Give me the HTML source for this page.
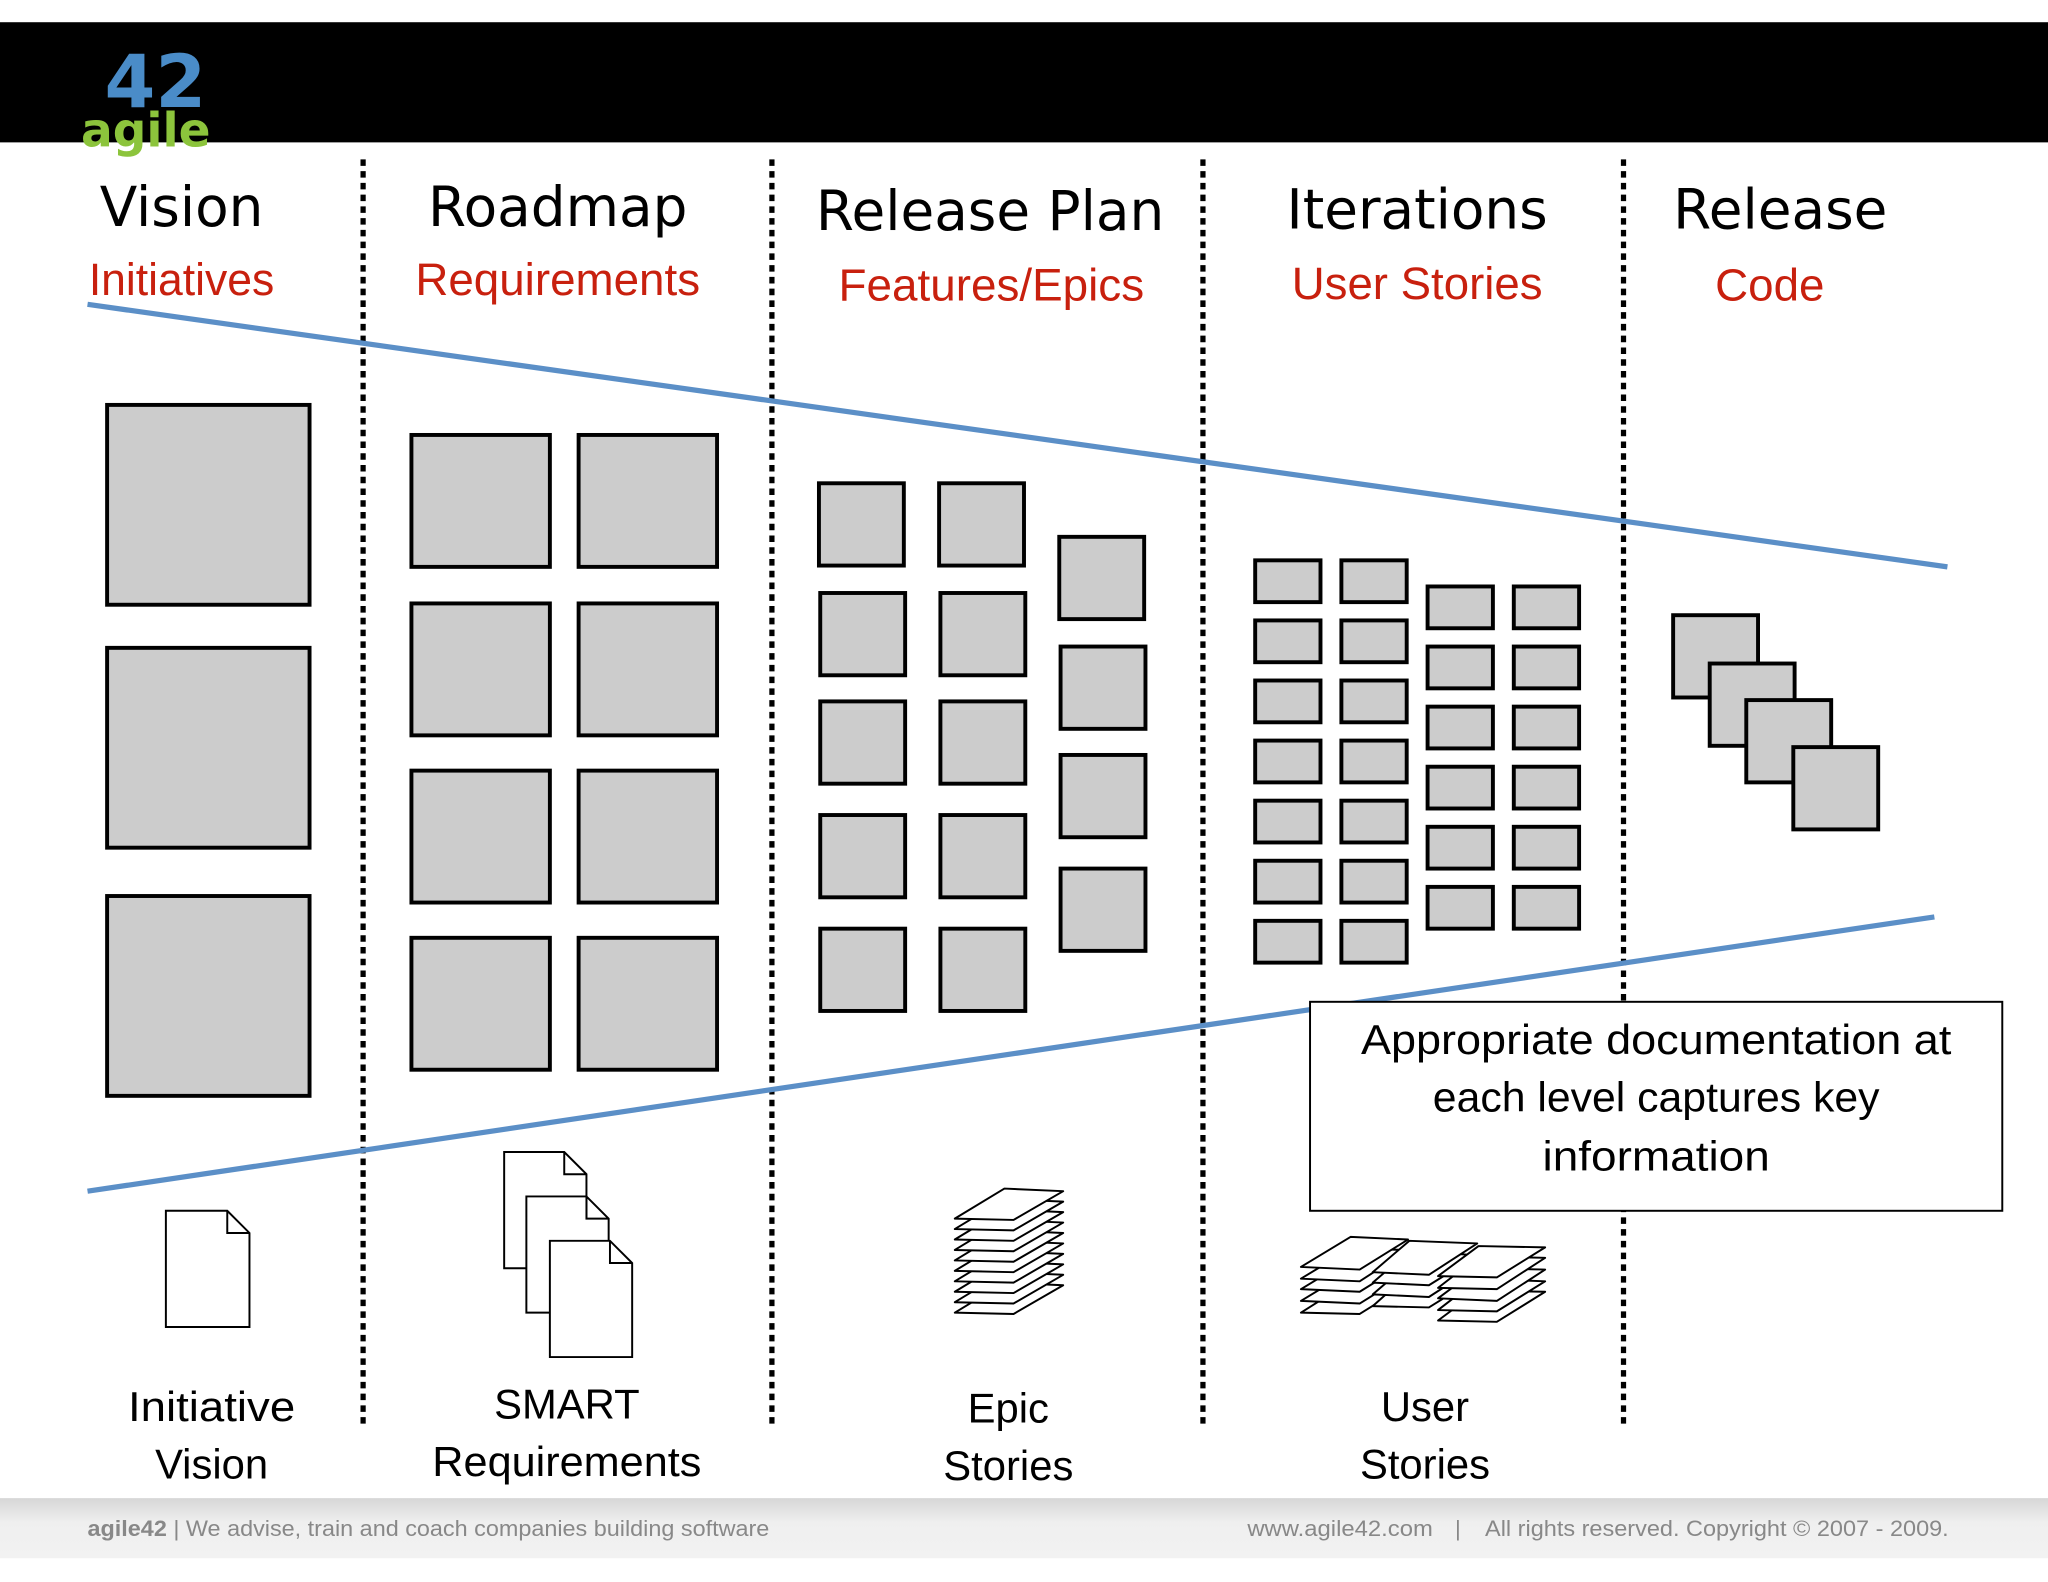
<!DOCTYPE html>
<html><head><meta charset="utf-8"><style>
html,body{margin:0;padding:0;background:#fff;}
svg{display:block;}
</style></head><body>
<svg width="2048" height="1582" viewBox="0 0 1568 1211.2" xmlns="http://www.w3.org/2000/svg" font-family="Liberation Sans, DejaVu Sans, sans-serif">
<rect x="0" y="0" width="1568" height="1212" fill="#fff"/>
<rect x="0" y="17" width="1568" height="92" fill="#000"/>
<!-- logo -->
<text x="80" y="82" font-size="56" font-weight="bold" fill="#4a8cc8" font-family="DejaVu Sans, sans-serif">42</text>
<text x="62" y="112" font-size="36" font-weight="bold" fill="#8cc43c" font-family="DejaVu Sans, sans-serif">agile</text>
<!-- footer -->
<defs><linearGradient id="fg" x1="0" y1="0" x2="0" y2="1"><stop offset="0" stop-color="#d6d6d6"/><stop offset="0.4" stop-color="#efefef"/><stop offset="1" stop-color="#f2f2f2"/></linearGradient></defs>
<rect x="0" y="1147" width="1568" height="46" fill="url(#fg)"/>
<text x="67" y="1176" font-size="17" fill="#888" textLength="522" lengthAdjust="spacingAndGlyphs"><tspan font-weight="bold">agile42</tspan> | We advise, train and coach companies building software</text>
<text x="955" y="1176" font-size="17" fill="#888" textLength="142" lengthAdjust="spacingAndGlyphs">www.agile42.com</text>
<text x="1114" y="1176" font-size="17" fill="#888">|</text>
<text x="1137" y="1176" font-size="17" fill="#888" textLength="355" lengthAdjust="spacingAndGlyphs">All rights reserved. Copyright © 2007 - 2009.</text>
<!-- dotted separators -->
<g stroke="#000" stroke-width="4" stroke-dasharray="5,4">
<line x1="278" y1="122" x2="278" y2="1090"/>
<line x1="591" y1="122" x2="591" y2="1090"/>
<line x1="921" y1="122" x2="921" y2="1090"/>
<line x1="1243" y1="122" x2="1243" y2="1090"/>
</g>
<!-- titles -->
<g font-family="DejaVu Sans, sans-serif" font-size="42" fill="#000">
<text x="139" y="173" text-anchor="middle">Vision</text>
<text x="427" y="173" text-anchor="middle">Roadmap</text>
<text x="758" y="176" text-anchor="middle">Release Plan</text>
<text x="1085" y="175" text-anchor="middle">Iterations</text>
<text x="1363" y="175" text-anchor="middle">Release</text>
</g>
<g font-size="35" fill="#c8200e">
<text x="139" y="226" text-anchor="middle" textLength="142" lengthAdjust="spacingAndGlyphs">Initiatives</text>
<text x="427" y="226" text-anchor="middle" textLength="218" lengthAdjust="spacingAndGlyphs">Requirements</text>
<text x="759" y="230" text-anchor="middle" textLength="234" lengthAdjust="spacingAndGlyphs">Features/Epics</text>
<text x="1085" y="229" text-anchor="middle" textLength="192" lengthAdjust="spacingAndGlyphs">User Stories</text>
<text x="1355" y="230" text-anchor="middle">Code</text>
</g>
<!-- boxes -->
<g fill="#ccc" stroke="#000" stroke-width="3">
<rect x="82" y="310" width="155" height="153"/>
<rect x="82" y="496" width="155" height="153"/>
<rect x="82" y="686" width="155" height="153"/>
<rect x="315" y="333" width="106" height="101"/><rect x="443" y="333" width="106" height="101"/>
<rect x="315" y="462" width="106" height="101"/><rect x="443" y="462" width="106" height="101"/>
<rect x="315" y="590" width="106" height="101"/><rect x="443" y="590" width="106" height="101"/>
<rect x="315" y="718" width="106" height="101"/><rect x="443" y="718" width="106" height="101"/>
<rect x="627" y="370" width="65" height="63"/><rect x="719" y="370" width="65" height="63"/>
<rect x="628" y="454" width="65" height="63"/><rect x="720" y="454" width="65" height="63"/>
<rect x="628" y="537" width="65" height="63"/><rect x="720" y="537" width="65" height="63"/>
<rect x="628" y="624" width="65" height="63"/><rect x="720" y="624" width="65" height="63"/>
<rect x="628" y="711" width="65" height="63"/><rect x="720" y="711" width="65" height="63"/>
<rect x="811" y="411" width="65" height="63"/><rect x="812" y="495" width="65" height="63"/>
<rect x="812" y="578" width="65" height="63"/><rect x="812" y="665" width="65" height="63"/>
<rect x="961" y="429" width="50" height="32"/><rect x="1027" y="429" width="50" height="32"/>
<rect x="961" y="475" width="50" height="32"/><rect x="1027" y="475" width="50" height="32"/>
<rect x="961" y="521" width="50" height="32"/><rect x="1027" y="521" width="50" height="32"/>
<rect x="961" y="567" width="50" height="32"/><rect x="1027" y="567" width="50" height="32"/>
<rect x="961" y="613" width="50" height="32"/><rect x="1027" y="613" width="50" height="32"/>
<rect x="961" y="659" width="50" height="32"/><rect x="1027" y="659" width="50" height="32"/>
<rect x="961" y="705" width="50" height="32"/><rect x="1027" y="705" width="50" height="32"/>
<rect x="1093" y="449" width="50" height="32"/><rect x="1159" y="449" width="50" height="32"/>
<rect x="1093" y="495" width="50" height="32"/><rect x="1159" y="495" width="50" height="32"/>
<rect x="1093" y="541" width="50" height="32"/><rect x="1159" y="541" width="50" height="32"/>
<rect x="1093" y="587" width="50" height="32"/><rect x="1159" y="587" width="50" height="32"/>
<rect x="1093" y="633" width="50" height="32"/><rect x="1159" y="633" width="50" height="32"/>
<rect x="1093" y="679" width="50" height="32"/><rect x="1159" y="679" width="50" height="32"/>
<rect x="1281" y="471" width="65" height="63"/>
<rect x="1309" y="508" width="65" height="63"/>
<rect x="1337" y="536" width="65" height="63"/>
<rect x="1373" y="572" width="65" height="63"/>
</g>
<!-- blue lines -->
<g stroke="#5b8fc7" stroke-width="4">
<line x1="67" y1="233" x2="1491" y2="434"/>
<line x1="67" y1="912" x2="1481" y2="702"/>
</g>
<!-- text box -->
<rect x="1003" y="767" width="530" height="160" fill="#fff" stroke="#000" stroke-width="1.5"/>
<g font-size="32" fill="#000" text-anchor="middle">
<text x="1268" y="807" textLength="452" lengthAdjust="spacingAndGlyphs">Appropriate documentation at</text>
<text x="1268" y="851" textLength="342" lengthAdjust="spacingAndGlyphs">each level captures key</text>
<text x="1268" y="896" textLength="174" lengthAdjust="spacingAndGlyphs">information</text>
</g>
<!-- documents -->
<g fill="#fff" stroke="#000" stroke-width="1.5">
<path d="M127 927 H174 L191 944 V1016 H127 Z M174 927 V944 H191"/>
<path d="M386 882 H432 L449 899 V971 H386 Z M432 882 V899 H449"/>
<path d="M403 916 H449 L466 933 V1005 H403 Z M449 916 V933 H466"/>
<path d="M421 950 H467 L484 967 V1039 H421 Z M467 950 V967 H484"/>
</g>
<!-- epic stack -->
<g fill="#fff" stroke="#000" stroke-width="1.5" stroke-linejoin="round">
<path d="M769 982 L814 984 L776 1006 L731 1005 Z"/>
<path d="M769 974 L814 976 L776 998 L731 997 Z"/>
<path d="M769 966 L814 968 L776 990 L731 989 Z"/>
<path d="M769 958 L814 960 L776 982 L731 981 Z"/>
<path d="M769 950 L814 952 L776 974 L731 973 Z"/>
<path d="M769 942 L814 944 L776 966 L731 965 Z"/>
<path d="M769 934 L814 936 L776 958 L731 957 Z"/>
<path d="M769 926 L814 928 L776 950 L731 949 Z"/>
<path d="M769 918 L814 920 L776 942 L731 941 Z"/>
<path d="M769 910 L814 912 L776 934 L731 933 Z"/>
</g>
<!-- user story stacks -->
<g fill="#fff" stroke="#000" stroke-width="1.5" stroke-linejoin="round">
<path d="M1034 981 L1078 983 L1041 1006 L996 1005 Z"/>
<path d="M1034 973 L1078 975 L1041 998 L996 996 Z"/>
<path d="M1034 964 L1078 966 L1041 989 L996 987 Z"/>
<path d="M1034 956 L1078 957 L1041 981 L996 979 Z"/>
<path d="M1034 947 L1078 949 L1041 972 L996 970 Z"/>
<path d="M1079 975 L1131 978 L1094 1001 L1051 1000 Z"/>
<path d="M1079 967 L1131 969 L1094 993 L1051 991 Z"/>
<path d="M1079 958 L1131 961 L1094 984 L1051 982 Z"/>
<path d="M1079 950 L1131 952 L1094 976 L1051 974 Z"/>
<path d="M1132 988 L1183 989 L1146 1012 L1101 1011 Z"/>
<path d="M1132 979 L1183 981 L1146 1004 L1101 1003 Z"/>
<path d="M1132 971 L1183 972 L1146 996 L1101 994 Z"/>
<path d="M1132 962 L1183 963 L1146 987 L1101 986 Z"/>
<path d="M1132 954 L1183 955 L1146 978 L1101 977 Z"/>
</g>
<!-- bottom labels -->
<g font-size="32" fill="#000" text-anchor="middle">
<text x="162" y="1088" textLength="128" lengthAdjust="spacingAndGlyphs">Initiative</text>
<text x="162" y="1132">Vision</text>
<text x="434" y="1086">SMART</text>
<text x="434" y="1130" textLength="206" lengthAdjust="spacingAndGlyphs">Requirements</text>
<text x="772" y="1089">Epic</text>
<text x="772" y="1133">Stories</text>
<text x="1091" y="1088">User</text>
<text x="1091" y="1132">Stories</text>
</g>
</svg>
</body></html>
